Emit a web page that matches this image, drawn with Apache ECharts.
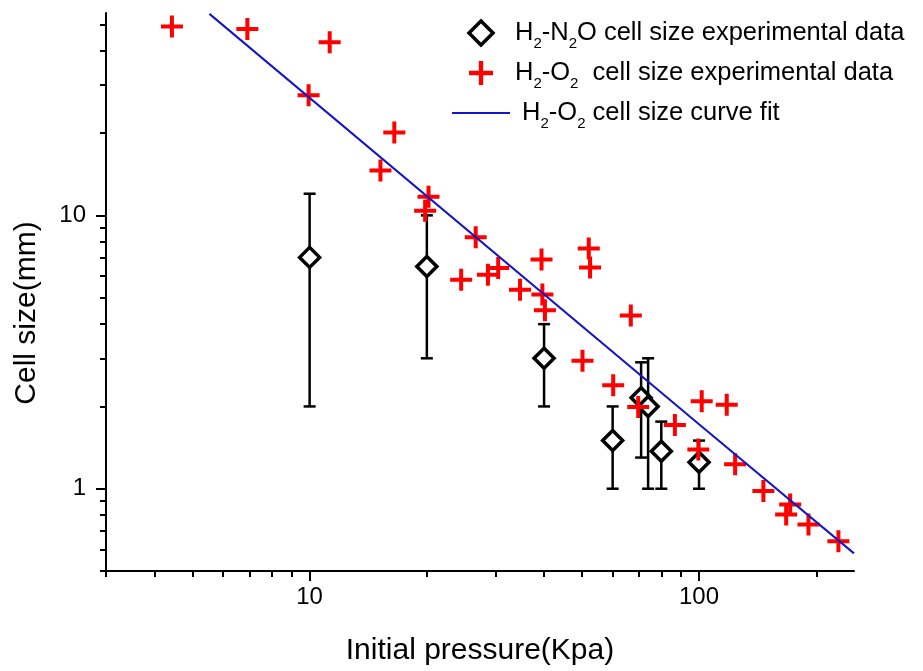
<!DOCTYPE html>
<html><head><meta charset="utf-8">
<script src="https://cdn.jsdelivr.net/npm/echarts@6/dist/echarts.min.js"></script>
<style>html,body{margin:0;padding:0;background:#fff}#c{width:923px;height:671px}</style>
</head><body><div id="c"></div>
<script>
// ---- tick values ----
const xMajorTicks = [10, 100];
const xMinorTicks = [3, 4, 5, 6, 7, 8, 9, 20, 30, 40, 50, 60, 70, 80, 90, 200];
const yMajorTicks = [1, 10];
const yMinorTicks = [0.5, 0.6, 0.7, 0.8, 0.9, 2, 3, 4, 5, 6, 7, 8, 9, 20, 30, 40, 50];

// ---- H2-N2O experimental data (with error bars) ----
const n2oPressure = [10, 20, 40, 60, 71, 74, 80, 100];
const n2oCell     = [7.02, 6.5, 3.0, 1.5, 2.15, 2.0, 1.37, 1.25];
const n2oLow      = [2, 3, 2, 1, 1.3, 1, 1, 1];
const n2oHigh     = [12, 10, 4, 2, 2.9, 3, 1.76, 1.5];

// ---- H2-O2 experimental data ----
const o2Pressure = [4.43, 6.92, 11.26, 9.94, 16.5, 15.2, 20.2, 19.8, 26.7, 24.5, 28.7, 30.5, 34.7, 39.4, 39.6, 40.2,
                    52.1, 52.5, 66.8, 50.2, 60.2, 69.8, 86.7, 101.6, 117.8, 99.6, 123.8, 146.3, 171.4, 167.4, 191, 228];
const o2Cell     = [49.1, 48.1, 43.0, 27.5, 20.1, 14.6, 11.7, 10.4, 8.31, 5.82, 6.07, 6.42, 5.35, 6.89, 5.13, 4.50,
                    7.56, 6.45, 4.30, 2.94, 2.39, 1.99, 1.71, 2.09, 2.03, 1.39, 1.23, 0.98, 0.876, 0.805, 0.74, 0.643];

// ---- H2-O2 curve fit ----
const fitPressure = [5.53, 100, 250];
const fitCell     = [54.6, 1.72, 0.58];

// ---- names ----
const nameN2O = 'H2-N2O cell size experimental data';
const nameO2  = 'H2-O2 cell size experimental data';
const nameFit = 'H2-O2 cell size curve fit';
const legendRich = {};
legendRich[nameN2O] = 'H{s|2}-N{s|2}O cell size experimental data';
legendRich[nameO2]  = 'H{s|2}-O{s|2}  cell size experimental data';
legendRich[nameFit] = ' H{s|2}-O{s|2} cell size curve fit';

const FONT = '"Liberation Sans", Arial, sans-serif';
const DIAMOND = 'path://M10,0L20,10L10,20L0,10Z';
const CROSS = 'path://M9,0H13V9H22V13H13V22H9V13H0V9H9Z';
const chart = echarts.init(document.getElementById('c'), null, {renderer: 'canvas'});

const errData = n2oPressure.map((p, i) => [p, n2oLow[i], n2oHigh[i]]);
const n2oData = n2oPressure.map((p, i) => [p, n2oCell[i]]);
const o2Data  = o2Pressure.map((p, i) => [p, o2Cell[i]]);
const fitData = fitPressure.map((p, i) => [p, fitCell[i]]);

const axisLineStyle = {color: '#000', width: 2};
const tickStyle = {color: '#000', width: 2};

const option = {
  animation: false,
  backgroundColor: '#fff',
  grid: {left: 106, right: 69, top: 13, bottom: 100, containLabel: false},
  legend: {
    orient: 'vertical', left: 447, top: 10,
    itemWidth: 58, itemHeight: 24, itemGap: 4,
    symbolKeepAspect: true,
    data: [
      {name: nameN2O, icon: DIAMOND, itemStyle: {color: '#fff', borderColor: '#000', borderWidth: 3.5, opacity: 1}},
      {name: nameO2, icon: CROSS, itemStyle: {color: '#ff0000', opacity: 1}},
      {name: nameFit, icon: 'path://M0,0H58V2H0Z', itemStyle: {color: '#1414c8', opacity: 1, borderWidth: 0}}
    ],
    formatter: n => legendRich[n],
    textStyle: {
      fontSize: 25.5, fontFamily: FONT, color: '#000', lineHeight: 36,
      rich: {s: {fontSize: 15, lineHeight: 14, verticalAlign: 'bottom', fontFamily: FONT, color: '#000'}}
    }
  },
  xAxis: [
    {
      type: 'log', logBase: 10, min: 3, max: 250, position: 'bottom',
      axisLine: {show: true, lineStyle: axisLineStyle},
      axisTick: {show: true, customValues: xMajorTicks, length: 10, lineStyle: tickStyle},
      axisLabel: {customValues: xMajorTicks, fontSize: 24, fontFamily: FONT, color: '#000', margin: 14},
      splitLine: {show: false},
      name: 'Initial pressure(Kpa)', nameLocation: 'middle', nameGap: 65,
      nameTextStyle: {fontSize: 30, fontFamily: FONT, color: '#000'}
    },
    {
      type: 'log', logBase: 10, min: 3, max: 250, position: 'bottom',
      axisLine: {show: false},
      axisTick: {show: true, customValues: xMinorTicks, length: 6, lineStyle: tickStyle},
      axisLabel: {show: false},
      splitLine: {show: false}
    }
  ],
  yAxis: [
    {
      type: 'log', logBase: 10, min: 0.5, max: 55, position: 'left',
      axisLine: {show: true, lineStyle: axisLineStyle},
      axisTick: {show: true, customValues: yMajorTicks, length: 10, lineStyle: tickStyle},
      axisLabel: {customValues: yMajorTicks, fontSize: 24, fontFamily: FONT, color: '#000', margin: 20},
      splitLine: {show: false},
      name: 'Cell size(mm)', nameLocation: 'middle', nameGap: 64,
      nameTextStyle: {fontSize: 30, fontFamily: FONT, color: '#000', padding: [0, 42, 0, 0]}
    },
    {
      type: 'log', logBase: 10, min: 0.5, max: 55, position: 'left',
      axisLine: {show: false},
      axisTick: {show: true, customValues: yMinorTicks, length: 6, lineStyle: tickStyle},
      axisLabel: {show: false},
      splitLine: {show: false}
    }
  ],
  series: [
    {
      type: 'custom', name: 'errorbars', xAxisIndex: 0, yAxisIndex: 0, z: 2,
      data: errData,
      encode: {x: 0, y: [1, 2]},
      renderItem: function (params, api) {
        const x = api.value(0);
        const lo = api.coord([x, api.value(1)]);
        const hi = api.coord([x, api.value(2)]);
        const h = 6;
        const st = {stroke: '#000', lineWidth: 2.5};
        return {type: 'group', children: [
          {type: 'line', shape: {x1: lo[0], y1: lo[1], x2: hi[0], y2: hi[1]}, style: st},
          {type: 'line', shape: {x1: lo[0] - h, y1: lo[1], x2: lo[0] + h, y2: lo[1]}, style: st},
          {type: 'line', shape: {x1: hi[0] - h, y1: hi[1], x2: hi[0] + h, y2: hi[1]}, style: st}
        ]};
      }
    },
    {
      type: 'scatter', name: nameN2O, xAxisIndex: 0, yAxisIndex: 0, z: 3,
      symbol: 'diamond', symbolSize: 20,
      itemStyle: {color: '#fff', borderColor: '#000', borderWidth: 3.5, opacity: 1},
      data: n2oData
    },
    {
      type: 'scatter', name: nameO2, xAxisIndex: 0, yAxisIndex: 0, z: 4,
      symbol: CROSS, symbolSize: 22,
      itemStyle: {color: '#ff0000', opacity: 1},
      data: o2Data
    },
    {
      type: 'line', name: nameFit, xAxisIndex: 0, yAxisIndex: 0, z: 5,
      symbol: 'none', lineStyle: {color: '#1414c8', width: 2},
      itemStyle: {color: '#1414c8'},
      data: fitData
    }
  ]
};
chart.setOption(option);
</script></body></html>
